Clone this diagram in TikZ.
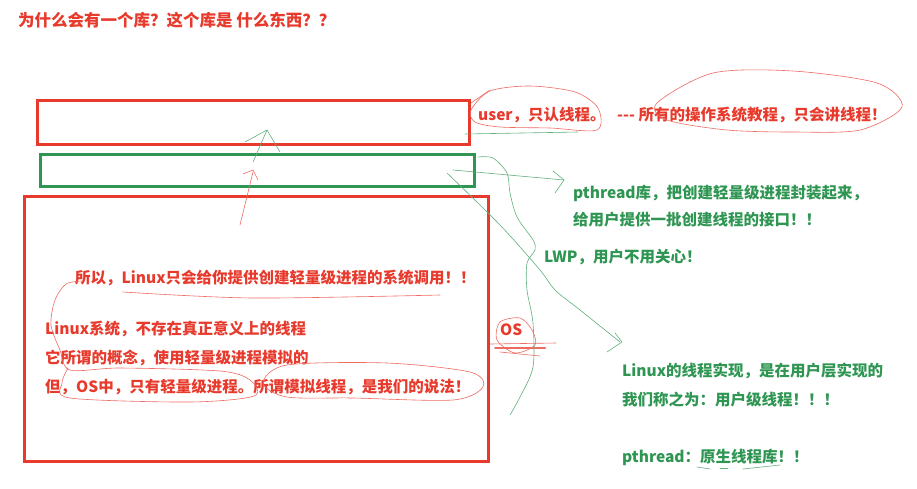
\documentclass[tikz,border=0pt]{standalone}
\usepackage{fontspec}
\setmainfont{Noto Sans CJK SC}
\usetikzlibrary{arrows.meta, positioning}
\definecolor{inkred}{RGB}{232,58,44}
\definecolor{inkgreen}{RGB}{46,150,82}
\tikzset{
	redbox/.style={draw=inkred, line width=3pt, inner sep=0pt},
	greenbox/.style={draw=inkgreen, line width=3pt, inner sep=0pt},
	redtxt/.style={text=inkred, font=\fontsize{15.5}{18}\selectfont\bfseries, anchor=west, inner sep=0pt},
	greentxt/.style={redtxt, text=inkgreen},
	redpen/.style={draw=inkred!75, line width=0.6pt, line cap=round},
	greenpen/.style={draw=inkgreen!75, line width=0.6pt, line cap=round}
}

\begin{document}
\begin{tikzpicture}[x=1pt, y=-1pt]
	\useasboundingbox[fill=white] (0,0) rectangle (917,488);

	% --- Title ---
	\node[redtxt, font=\fontsize{16.5}{19}\selectfont\bfseries] (title) at (18,20) {为什么会有一个库？这个库是 什么东西？？};

	% --- Layers ---
	\node[redbox, minimum width=432pt, minimum height=44pt, anchor=north west] (userlayer) at (36,99) {};
	\node[greenbox, minimum width=434pt, minimum height=32pt, anchor=north west] (libbox) at (39,153) {};
	\node[redbox, minimum width=464pt, minimum height=265pt, anchor=north west] (osbox) at (23,195) {};

	% --- Red notes ---
	\node[redtxt] (user) at (478,115) {user，只认线程。};
	\node[redtxt] (tutor) at (617,115) {-{}-{}- 所有的操作系统教程，只会讲线程！};
	\node[redtxt] (syscall) at (75,278) {所以，Linux只会给你提供创建轻量级进程的系统调用！！};
	\node[redtxt] (nothread) at (45,329) {Linux系统，不存在真正意义上的线程};
	\node[redtxt] (concept) at (45,358) {它所谓的概念，使用轻量级进程模拟的};
	\node[redtxt] (onlylwp) at (45,387) {但，OS中，只有轻量级进程。所谓模拟线程，是我们的说法！};
	\node[redtxt] (os) at (500,330) {OS};

	% --- Green notes ---
	\node[greentxt] (wrap) at (573,193) {pthread库，把创建轻量级进程封装起来，};
	\node[greentxt] (iface) at (573,220) {给用户提供一批创建线程的接口！！};
	\node[greentxt] (lwp) at (544,257) {LWP，用户不用关心！};
	\node[greentxt] (impl) at (622,371) {Linux的线程实现，是在用户层实现的};
	\node[greentxt] (ulevel) at (622,400) {我们称之为：用户级线程！！！};
	\node[greentxt] (native) at (622,457) {pthread：原生线程库！！};

	% --- Red strokes ---
	\draw[redpen] plot[smooth cycle] coordinates {(471,110) (490,91) (530,86) (575,92) (598,108) (597,130) (550,128) (500,127) (475,122)};
	\draw[redpen] plot[smooth cycle] coordinates {(657,103) (713,73) (793,71) (877,83) (902,107) (860,130) (793,132) (727,130) (667,120)};
	\draw[redpen] (userlayer.north east) ++(0,4) -- (490,90);
	\draw[redpen] (240,225) -- (253,172);
	\draw[redpen] (243,174) -- (253,170) -- (258,180);
	\draw[redpen] plot[smooth] coordinates {(123,292) (253,298) (440,295)};
	\draw[redpen] plot[smooth] coordinates {(82,281) (66,284) (55,300) (51,325) (60,350) (70,370) (120,368) (220,371) (250,380) (254,396) (190,402) (70,398) (62,383) (68,368)};
	\draw[redpen] plot[smooth cycle] coordinates {(263,383) (287,365) (387,363) (470,372) (483,387) (453,400) (353,398) (287,397)};
	\draw[redpen] plot[smooth cycle] coordinates {(497,340) (500,322) (520,318) (532,330) (535,345) (515,353)};
	\draw[redpen] (490,344) -- (556,343);
	\draw[redpen, line width=2pt] (495,348) -- (545,348);
	\draw[redpen] (500,352) -- (540,356);

	% --- Green strokes ---
	\draw[greenpen] (465,134) -- (578,132);
	\draw[greenpen] (253,162) -- (267,130);
	\draw[greenpen] (245,142) -- (267,130) -- (280,152);
	\draw[greenpen] (453,170) -- (564,180);
	\draw[greenpen] (553,171) -- (564,180) -- (555,193);
	\draw[greenpen] plot[smooth] coordinates {(478,157) (493,158) (507,173) (510,193) (517,217) (533,240) (535,250) (527,263) (527,290) (533,323) (533,367) (520,397) (510,415)};
	\draw[greenpen] plot[smooth] coordinates {(447,173) (500,225) (540,270) (555,290) (580,310) (620,342)};
	\draw[greenpen] (615,333) -- (622,342) -- (607,352);
	\draw[greenpen] (697,467) -- (710,469);
	\draw[greenpen] (720,468) -- (728,468);
	\draw[greenpen] (743,469) -- (780,465);
\end{tikzpicture}
\end{document}
